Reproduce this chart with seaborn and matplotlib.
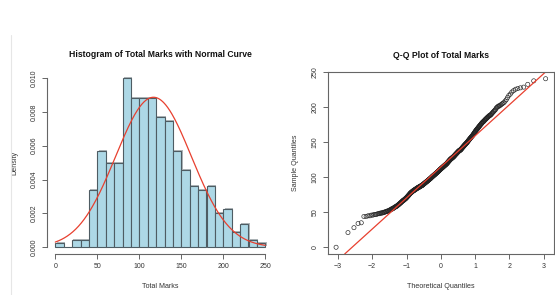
import numpy as np
import pandas as pd
import seaborn as sns
import matplotlib.pyplot as plt
import matplotlib.patheffects as pe
from matplotlib.lines import Line2D
from statistics import NormalDist

marks = [
    0, 21, 28, 34, 35,
    44, 44, 45, 45, 46, 46, 47, 47, 47, 48, 48, 48, 49, 49, 49,
    50, 50, 50, 51, 51, 51, 52, 52, 52, 53, 53, 54, 54, 55, 55, 55, 56, 56, 57, 57, 58, 58, 58, 59, 59,
    60, 60, 61, 61, 62, 62, 63, 63, 64, 64, 65, 65, 66, 66, 67, 67, 67, 68, 68, 69, 69, 69,
    70, 70, 71, 71, 72, 72, 73, 73, 74, 74, 75, 75, 76, 76, 77, 77, 78, 78, 78, 79, 79, 79,
    80, 80, 80, 81, 81, 81, 81, 82, 82, 82, 82, 83, 83, 83, 83, 84, 84, 84, 84, 85,
    85, 85, 85, 85, 86, 86, 86, 86, 86, 87, 87, 87, 87, 87, 88, 88, 88, 88, 88, 89,
    89, 89, 89, 89,
    90, 90, 90, 91, 91, 91, 91, 92, 92, 92, 92, 93, 93, 93, 93, 94, 94, 94, 94, 95,
    95, 95, 95, 96, 96, 96, 96, 97, 97, 97, 97, 98, 98, 98, 98, 99, 99, 99, 99,
    100, 100, 100, 101, 101, 101, 101, 102, 102, 102, 102, 103, 103, 103, 103, 104, 104, 104, 104, 105,
    105, 105, 105, 106, 106, 106, 106, 107, 107, 107, 107, 108, 108, 108, 108, 109, 109, 109, 109,
    110, 110, 110, 111, 111, 111, 111, 112, 112, 112, 112, 113, 113, 113, 113, 114, 114, 114, 114, 115,
    115, 115, 115, 116, 116, 116, 116, 117, 117, 117, 117, 118, 118, 118, 118, 119, 119, 119, 119,
    120, 120, 120, 121, 121, 121, 122, 122, 122, 123, 123, 123, 124, 124, 124, 125, 125, 125, 126, 126,
    126, 126, 127, 127, 127, 127, 128, 128, 128, 128, 129, 129, 129, 129,
    130, 130, 130, 131, 131, 131, 132, 132, 132, 133, 133, 133, 134, 134, 134, 135, 135, 135, 136, 136,
    136, 137, 137, 137, 138, 138, 138, 138, 139, 139, 139, 139, 139,
    140, 140, 141, 141, 141, 142, 142, 143, 143, 143, 144, 144, 145, 145, 145, 146, 146, 147, 147, 147,
    148, 148, 149, 149, 149,
    150, 150, 151, 151, 152, 152, 153, 153, 154, 154, 155, 155, 156, 156, 157, 157, 158, 158, 159, 159,
    160, 160, 161, 162, 162, 163, 164, 164, 165, 166, 166, 167, 168, 168, 169, 169,
    170, 171, 171, 172, 173, 173, 174, 175, 175, 176, 177, 177, 178, 179, 179,
    180, 180, 181, 182, 182, 183, 184, 184, 185, 186, 186, 187, 188, 188, 189, 189,
    190, 191, 192, 193, 194, 195, 196, 197, 199,
    200, 201, 202, 202, 203, 204, 205, 206, 207, 209,
    211, 214, 217, 219,
    222, 224, 226, 227, 228, 229,
    233, 238,
    241,
]
bin_edges = list(range(0, 260, 10))
x_ticks_hist = [0, 50, 100, 150, 200, 250]
y_ticks_hist = [0.000, 0.002, 0.004, 0.006, 0.008, 0.010]
x_ticks_qq = [-3, -2, -1, 0, 1, 2, 3]
y_ticks_qq = [0, 50, 100, 150, 200, 250]

df = pd.DataFrame({'marks': marks})
n = len(df)
mu = df['marks'].mean()
sd = df['marks'].std()

sns.set_style('white')
plt.rcParams['font.family'] = ['Liberation Sans', 'DejaVu Sans']

txt = '#333333'
axc = '#666666'
red = '#e8402f'

fig = plt.figure(figsize=(5.55, 2.95), dpi=100)
W, H = 555, 295

def place(x0, x1, y0, y1):
    return [x0 / W, 1 - y1 / H, (x1 - x0) / W, (y1 - y0) / H]

# faint frame line at the left of the page
fig.add_artist(Line2D([11 / W, 11 / W], [0, 1 - 35 / H], color='#e6e6e6', lw=0.8))

# ---- histogram with normal curve
ax1 = fig.add_axes(place(46.9, 273.7, 71.2, 254))
sns.histplot(data=df, x='marks', bins=bin_edges, stat='density', color='lightblue',
             edgecolor='#4e5c63', linewidth=0.8, alpha=1, ax=ax1)
for p in ax1.patches:
    p.set_path_effects([pe.SimplePatchShadow(offset=(1.0, 0.7), shadow_rgbFace='#8f989c', alpha=0.7),
                        pe.Normal()])
xs = np.linspace(0, 250, 300)
dens = np.exp(-0.5 * ((xs - mu) / sd) ** 2) / (sd * np.sqrt(2 * np.pi))
sns.lineplot(x=xs, y=dens, color=red, linewidth=0.9, ax=ax1)
ax1.set_xlim(-10, 260)
ax1.set_ylim(-0.0004, 0.0104)
ax1.set_xticks(x_ticks_hist)
ax1.set_yticks(y_ticks_hist)
ax1.set_yticklabels(['%.3f' % v for v in y_ticks_hist])
for s in ['top', 'right']:
    ax1.spines[s].set_visible(False)
ax1.spines['left'].set_bounds(0, 0.010)
ax1.spines['bottom'].set_bounds(0, 250)
ax1.set_title('Histogram of Total Marks with Normal Curve', fontsize=6.2,
              fontweight='bold', color='#111111', pad=10)
ax1.set_xlabel('Total Marks', fontsize=5.1, color=txt, labelpad=9)
ax1.set_ylabel('Density', fontsize=5.1, color=txt, labelpad=9)

# ---- Q-Q plot
ax2 = fig.add_axes(place(327.7, 554, 72, 254))
sample = np.sort(df['marks'].to_numpy())
theo = np.array([NormalDist().inv_cdf((i - 0.5) / n) for i in range(1, n + 1)])
sns.scatterplot(x=theo, y=sample, marker='o', s=9, facecolor='none',
                edgecolor='#222222', linewidth=0.45, ax=ax2)
q1, q3 = np.percentile(sample, [25, 75])
z1, z3 = NormalDist().inv_cdf(0.25), NormalDist().inv_cdf(0.75)
slope = (q3 - q1) / (z3 - z1)
inter = q1 - slope * z1
ax2.margins(x=0.04, y=0.04)
ax2.axline((0, inter), slope=slope, color=red, linewidth=0.9)
ax2.set_xticks(x_ticks_qq)
ax2.set_yticks(y_ticks_qq)
ax2.set_title('Q-Q Plot of Total Marks', fontsize=6.2, fontweight='bold',
              color='#111111', pad=10)
ax2.set_xlabel('Theoretical Quantiles', fontsize=5.1, color=txt, labelpad=9)
ax2.set_ylabel('Sample Quantiles', fontsize=5.1, color=txt, labelpad=9)

for ax in (ax1, ax2):
    for s in ax.spines.values():
        s.set_color(axc)
        s.set_linewidth(0.8)
    ax.tick_params(direction='out', length=3.5, width=0.7, color=axc,
                   labelsize=5, labelcolor=txt, pad=3, left=True, bottom=True)
    for lab in ax.get_yticklabels():
        lab.set_rotation(90)
        lab.set_va('center')

fig.savefig('out.png', dpi=100, facecolor='white')
